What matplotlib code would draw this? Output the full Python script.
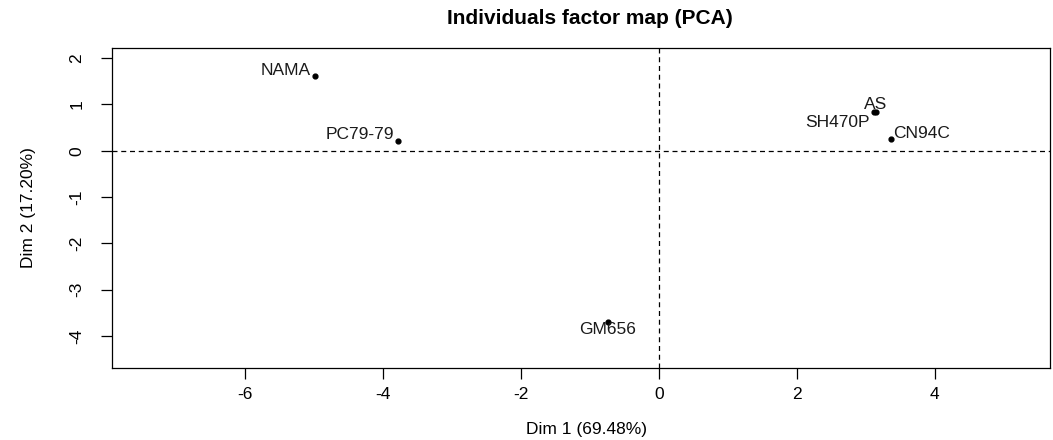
import matplotlib
matplotlib.use("Agg")
import matplotlib.pyplot as plt

plt.rcParams['font.family'] = ['Liberation Sans', 'DejaVu Sans']

# individuals coordinates on Dim 1 / Dim 2
names = ["NAMA", "PC79-79", "AS", "SH470P", "CN94C", "GM656"]
dim1 = [-4.99, -3.78, 3.14, 3.12, 3.36, -0.74]
dim2 = [1.62, 0.22, 0.84, 0.83, 0.26, -3.69]

xticks = [-6, -4, -2, 0, 2, 4]
yticks = [2, 1, 0, -1, -2, -3, -4]

# label placement (offset in points, alignment)
label_pos = {
    "NAMA": ((-3, 3.5), "right"),
    "PC79-79": ((-3, 4.5), "right"),
    "AS": ((0, 5.5), "center"),
    "SH470P": ((-3.5, -7.5), "right"),
    "CN94C": ((2, 3.5), "left"),
    "GM656": ((0, -5.5), "center"),
}

fs = 12.5

fig = plt.figure(figsize=(10.53, 4.40), dpi=100)
ax = fig.add_axes([112/1053, 1 - 368/440, (1050 - 112)/1053, (368 - 48)/440])

ax.axhline(0, color='black', linestyle=(0, (4, 3)), linewidth=0.9)
ax.axvline(0, color='black', linestyle=(0, (4, 3)), linewidth=0.9)
ax.scatter(dim1, dim2, s=12, color='black', zorder=3)

for n, x, y in zip(names, dim1, dim2):
    off, ha = label_pos[n]
    ax.annotate(n, (x, y), xytext=off, textcoords='offset points',
                ha=ha, va='center', fontsize=fs, color='#1a1a1a')

ax.set_xlim(-7.93, 5.67)
ax.set_ylim(-4.69, 2.22)
ax.set_xticks(xticks)
ax.set_yticks(yticks)
ax.set_xticklabels([str(t) for t in xticks], fontsize=fs)
ax.set_yticklabels([str(t) for t in yticks], fontsize=fs, rotation=90, va='center')
ax.tick_params(direction='out', length=8, width=0.9)
ax.tick_params(axis='x', pad=6)
ax.tick_params(axis='y', pad=12)
for s in ax.spines.values():
    s.set_linewidth(0.9)

fig.text(28/1053, 1 - 208/440, "Dim 2 (17.20%)", rotation=90, ha='center', va='center', fontsize=fs)
fig.text(586/1053, 1 - 429/440, "Dim 1 (69.48%)", ha='center', va='center', fontsize=fs)
fig.text(590/1053, 1 - 18/440, "Individuals factor map (PCA)", ha='center', va='center',
         fontsize=15, fontweight='bold')

fig.savefig("out.png", dpi=100)
